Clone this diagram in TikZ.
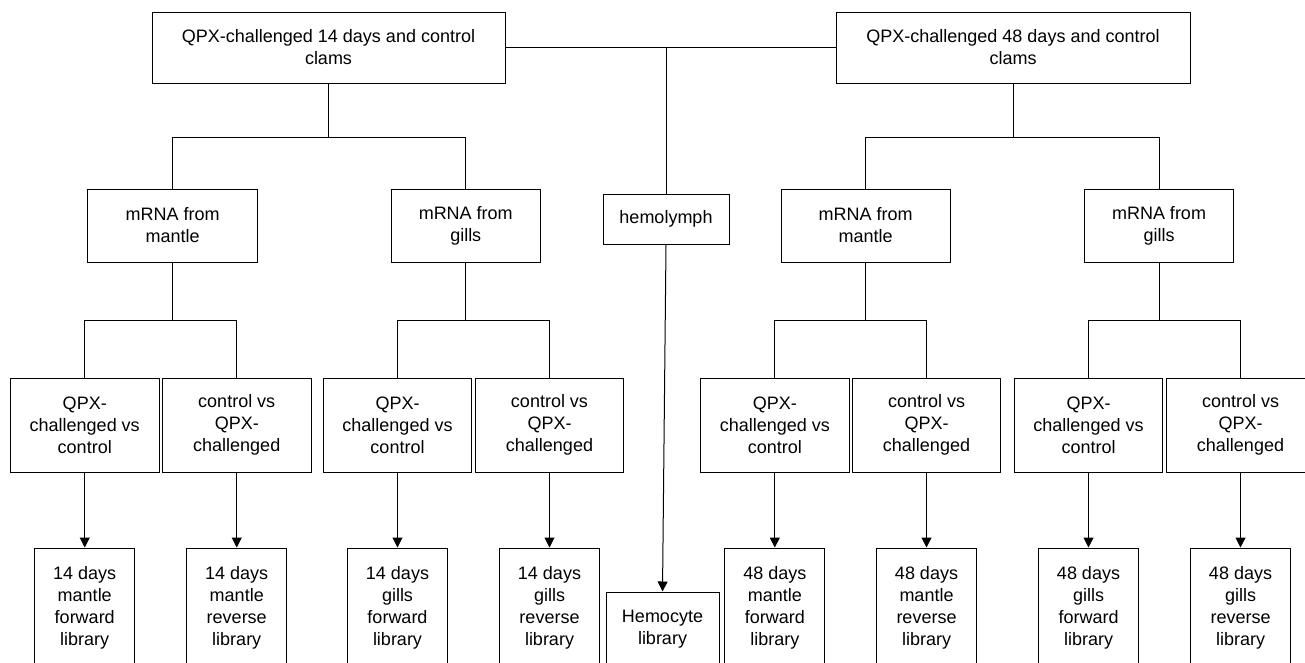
\documentclass[tikz,border=0pt]{standalone}
\usepackage{fontspec}
\setmainfont{Liberation Sans}
\usetikzlibrary{arrows.meta}
\tikzset{
  box/.style={draw, line width=1pt, inner sep=0pt, align=center, font=\fontsize{18}{22}\selectfont},
  top/.style={box, minimum width=353pt, minimum height=71pt},
  mid/.style={box, minimum height=73pt},
  cmp/.style={box, minimum width=148.5pt, minimum height=94pt},
  lib/.style={box, minimum width=100pt, minimum height=120pt},
  link/.style={line width=1pt},
  arr/.style={line width=1pt, -{Triangle[length=10pt,width=10pt]}}
}
\begin{document}
\begin{tikzpicture}[x=1pt,y=-1pt]
\useasboundingbox (0,0) rectangle (1305,662);
\clip (0,0) rectangle (1305,662);
\fill[white] (0,0) rectangle (1305,662);
% top level
\node[top] (T1) at (328.5,47.5) {QPX-challenged 14 days and control\\clams};
\node[top, minimum width=354pt] (T2) at (1013,47.5) {QPX-challenged 48 days and control\\clams};
% middle
\node[mid, minimum width=170pt] (M1) at (172.6,225.5) {mRNA from\\mantle};
\node[mid, minimum width=148.5pt] (G1) at (465.75,225.5) {mRNA from\\gills};
\node[box, minimum width=126pt, minimum height=50pt] (H) at (666,219) {hemolymph};
\node[mid, minimum width=169.4pt] (M2) at (865.7,225.5) {mRNA from\\mantle};
\node[mid, minimum width=149pt] (G2) at (1159,225.5) {mRNA from\\gills};
% comparisons
\node[cmp] (C1) at (84.75,425) {QPX-\\challenged vs\\control};
\node[cmp] (C2) at (236.75,425) {control vs\\QPX-\\challenged};
\node[cmp] (C3) at (397.5,425) {QPX-\\challenged vs\\control};
\node[cmp] (C4) at (549.5,425) {control vs\\QPX-\\challenged};
\node[cmp] (C5) at (774.8,425) {QPX-\\challenged vs\\control};
\node[cmp] (C6) at (926.5,425) {control vs\\QPX-\\challenged};
\node[cmp] (C7) at (1088.5,425) {QPX-\\challenged vs\\control};
\node[cmp] (C8) at (1240.5,425) {control vs\\QPX-\\challenged};
% libraries
\node[lib] (B1) at (84.75,608) {14 days\\mantle\\forward\\library};
\node[lib] (B2) at (236.75,608) {14 days\\mantle\\reverse\\library};
\node[lib] (B3) at (397.5,608) {14 days\\gills\\forward\\library};
\node[lib] (B4) at (549.5,608) {14 days\\gills\\reverse\\library};
\node[box, minimum width=113pt, minimum height=74pt] (Hem) at (662.5,629) {Hemocyte\\library};
\node[lib] (B5) at (774.8,608) {48 days\\mantle\\forward\\library};
\node[lib] (B6) at (926.5,608) {48 days\\mantle\\reverse\\library};
\node[lib] (B7) at (1088.5,608) {48 days\\gills\\forward\\library};
\node[lib] (B8) at (1240.5,608) {48 days\\gills\\reverse\\library};
% junction coordinates
\coordinate (J1) at (328.5,137);
\coordinate (J2) at (1013,137);
\coordinate (K1) at (172.6,320);
\coordinate (K2) at (465.75,320);
\coordinate (K3) at (865.7,320);
\coordinate (K4) at (1159,320);
% top connections
\draw[link] (T1.east) -- (T2.west);
\draw[link] (H.north |- T1.east) -- (H.north);
\draw[arr] (H.south) -- (Hem.north);
% T1 tree
\draw[link] (T1.south) -- (J1);
\draw[link] (M1.north) -- (M1.north |- J1) -- (G1.north |- J1) -- (G1.north);
\draw[link] (T2.south) -- (J2);
\draw[link] (M2.north) -- (M2.north |- J2) -- (G2.north |- J2) -- (G2.north);
% mRNA to comparisons
\draw[link] (M1.south) -- (K1);
\draw[link] (C1.north) -- (C1.north |- K1) -- (C2.north |- K1) -- (C2.north);
\draw[link] (G1.south) -- (K2);
\draw[link] (C3.north) -- (C3.north |- K2) -- (C4.north |- K2) -- (C4.north);
\draw[link] (M2.south) -- (K3);
\draw[link] (C5.north) -- (C5.north |- K3) -- (C6.north |- K3) -- (C6.north);
\draw[link] (G2.south) -- (K4);
\draw[link] (C7.north) -- (C7.north |- K4) -- (C8.north |- K4) -- (C8.north);
% arrows to libraries
\draw[arr] (C1.south) -- (B1.north);
\draw[arr] (C2.south) -- (B2.north);
\draw[arr] (C3.south) -- (B3.north);
\draw[arr] (C4.south) -- (B4.north);
\draw[arr] (C5.south) -- (B5.north);
\draw[arr] (C6.south) -- (B6.north);
\draw[arr] (C7.south) -- (B7.north);
\draw[arr] (C8.south) -- (B8.north);
\end{tikzpicture}
\end{document}
